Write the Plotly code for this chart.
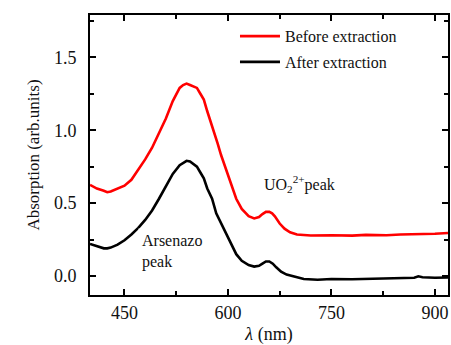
import plotly.graph_objects as go

# Wavelength (nm) and absorption values
wl_before = [400, 410, 420, 425, 430, 440, 450, 460, 470, 480, 490, 500, 510, 520,
             530, 535, 540, 545, 550, 555, 560, 565, 570, 575, 580, 585, 590, 595,
             600, 607, 612, 620, 630, 638, 645, 650, 655, 660, 664, 668, 675, 682,
             690, 700, 720, 750, 780, 800, 830, 850, 880, 900, 919]
abs_before = [0.625, 0.60, 0.585, 0.575, 0.58, 0.60, 0.62, 0.66, 0.73, 0.80, 0.88, 0.98, 1.08, 1.20,
              1.29, 1.31, 1.32, 1.31, 1.30, 1.29, 1.25, 1.21, 1.13, 1.06, 0.98, 0.91, 0.83, 0.76,
              0.70, 0.60, 0.53, 0.46, 0.41, 0.395, 0.405, 0.425, 0.44, 0.44, 0.43, 0.41, 0.36, 0.325,
              0.30, 0.285, 0.278, 0.28, 0.277, 0.282, 0.28, 0.285, 0.287, 0.29, 0.295]

wl_after = [400, 410, 420, 425, 430, 440, 450, 460, 470, 480, 490, 500, 510, 515, 520,
            530, 540, 545, 550, 555, 560, 565, 570, 577, 583, 590, 597, 605, 612, 620,
            630, 638, 645, 650, 655, 660, 665, 670, 677, 685, 696, 710, 730, 750, 780,
            800, 830, 850, 870, 876, 882, 900, 919]
abs_after = [0.22, 0.205, 0.19, 0.19, 0.195, 0.215, 0.245, 0.285, 0.33, 0.385, 0.45, 0.53, 0.62, 0.66, 0.70,
             0.76, 0.79, 0.785, 0.77, 0.75, 0.71, 0.67, 0.60, 0.53, 0.43, 0.36, 0.30, 0.21, 0.15, 0.105,
             0.075, 0.065, 0.07, 0.085, 0.10, 0.10, 0.085, 0.06, 0.03, 0.01, -0.005, -0.02, -0.025, -0.02, -0.022,
             -0.02, -0.018, -0.017, -0.012, -0.002, -0.008, -0.012, -0.01]

x_ticks = [450, 600, 750, 900]
y_ticks = [0.0, 0.5, 1.0, 1.5]
y_ticklabels = ["0.0", "0.5", "1.0", "1.5"]

FONT = "Liberation Serif, Times New Roman, serif"
TXT = "#111"

fig = go.Figure()
fig.add_trace(go.Scatter(x=wl_before, y=abs_before, mode="lines", name="Before extraction",
                         line=dict(color="#ff0000", width=2.6), legendgroup="a"))
fig.add_trace(go.Scatter(x=wl_after, y=abs_after, mode="lines", name="After extraction",
                         line=dict(color="#000000", width=2.6), legendgroup="b"))

fig.add_annotation(x=649, y=0.63, xref="x", yref="y", xanchor="left", yanchor="middle",
                   text="UO<sub>2</sub><sup>2+</sup>peak", showarrow=False,
                   font=dict(family=FONT, size=16, color=TXT))
fig.add_annotation(x=470, y=0.17, xref="x", yref="y", xanchor="left", yanchor="middle",
                   text="Arsenazo<br>peak", showarrow=False, align="left",
                   bgcolor="white", borderpad=3,
                   font=dict(family=FONT, size=16, color=TXT))

axis_common = dict(showline=True, linecolor="black", linewidth=2, mirror="ticks",
                   ticks="inside", ticklen=6, tickwidth=1.5, tickcolor="black",
                   showgrid=False, zeroline=False,
                   tickfont=dict(family=FONT, size=18, color=TXT))

fig.update_xaxes(range=[400, 919], tickvals=x_ticks,
                 minor=dict(dtick=75, tick0=450, ticks="inside", ticklen=4, tickcolor="black", showgrid=False),
                 title=dict(text="<i>λ</i> (nm)", font=dict(family=FONT, size=18, color=TXT), standoff=9),
                 **axis_common)
fig.update_yaxes(range=[-0.13, 1.79], tickvals=y_ticks, ticktext=y_ticklabels,
                 minor=dict(dtick=0.25, tick0=0, ticks="inside", ticklen=4, tickcolor="black", showgrid=False),
                 title=dict(text="Absorption (arb.units)", font=dict(family=FONT, size=17, color=TXT), standoff=10),
                 ticklabelstandoff=8,
                 **axis_common)

fig.update_layout(width=451, height=345, margin=dict(l=90, r=1, t=15, b=49),
                  paper_bgcolor="white", plot_bgcolor="white",
                  legend=dict(x=0.405, y=0.985, xanchor="left", yanchor="top",
                              bgcolor="rgba(0,0,0,0)", tracegroupgap=2, itemwidth=40,
                              font=dict(family=FONT, size=16, color=TXT)),
                  showlegend=True)

fig.write_html("out.html")
